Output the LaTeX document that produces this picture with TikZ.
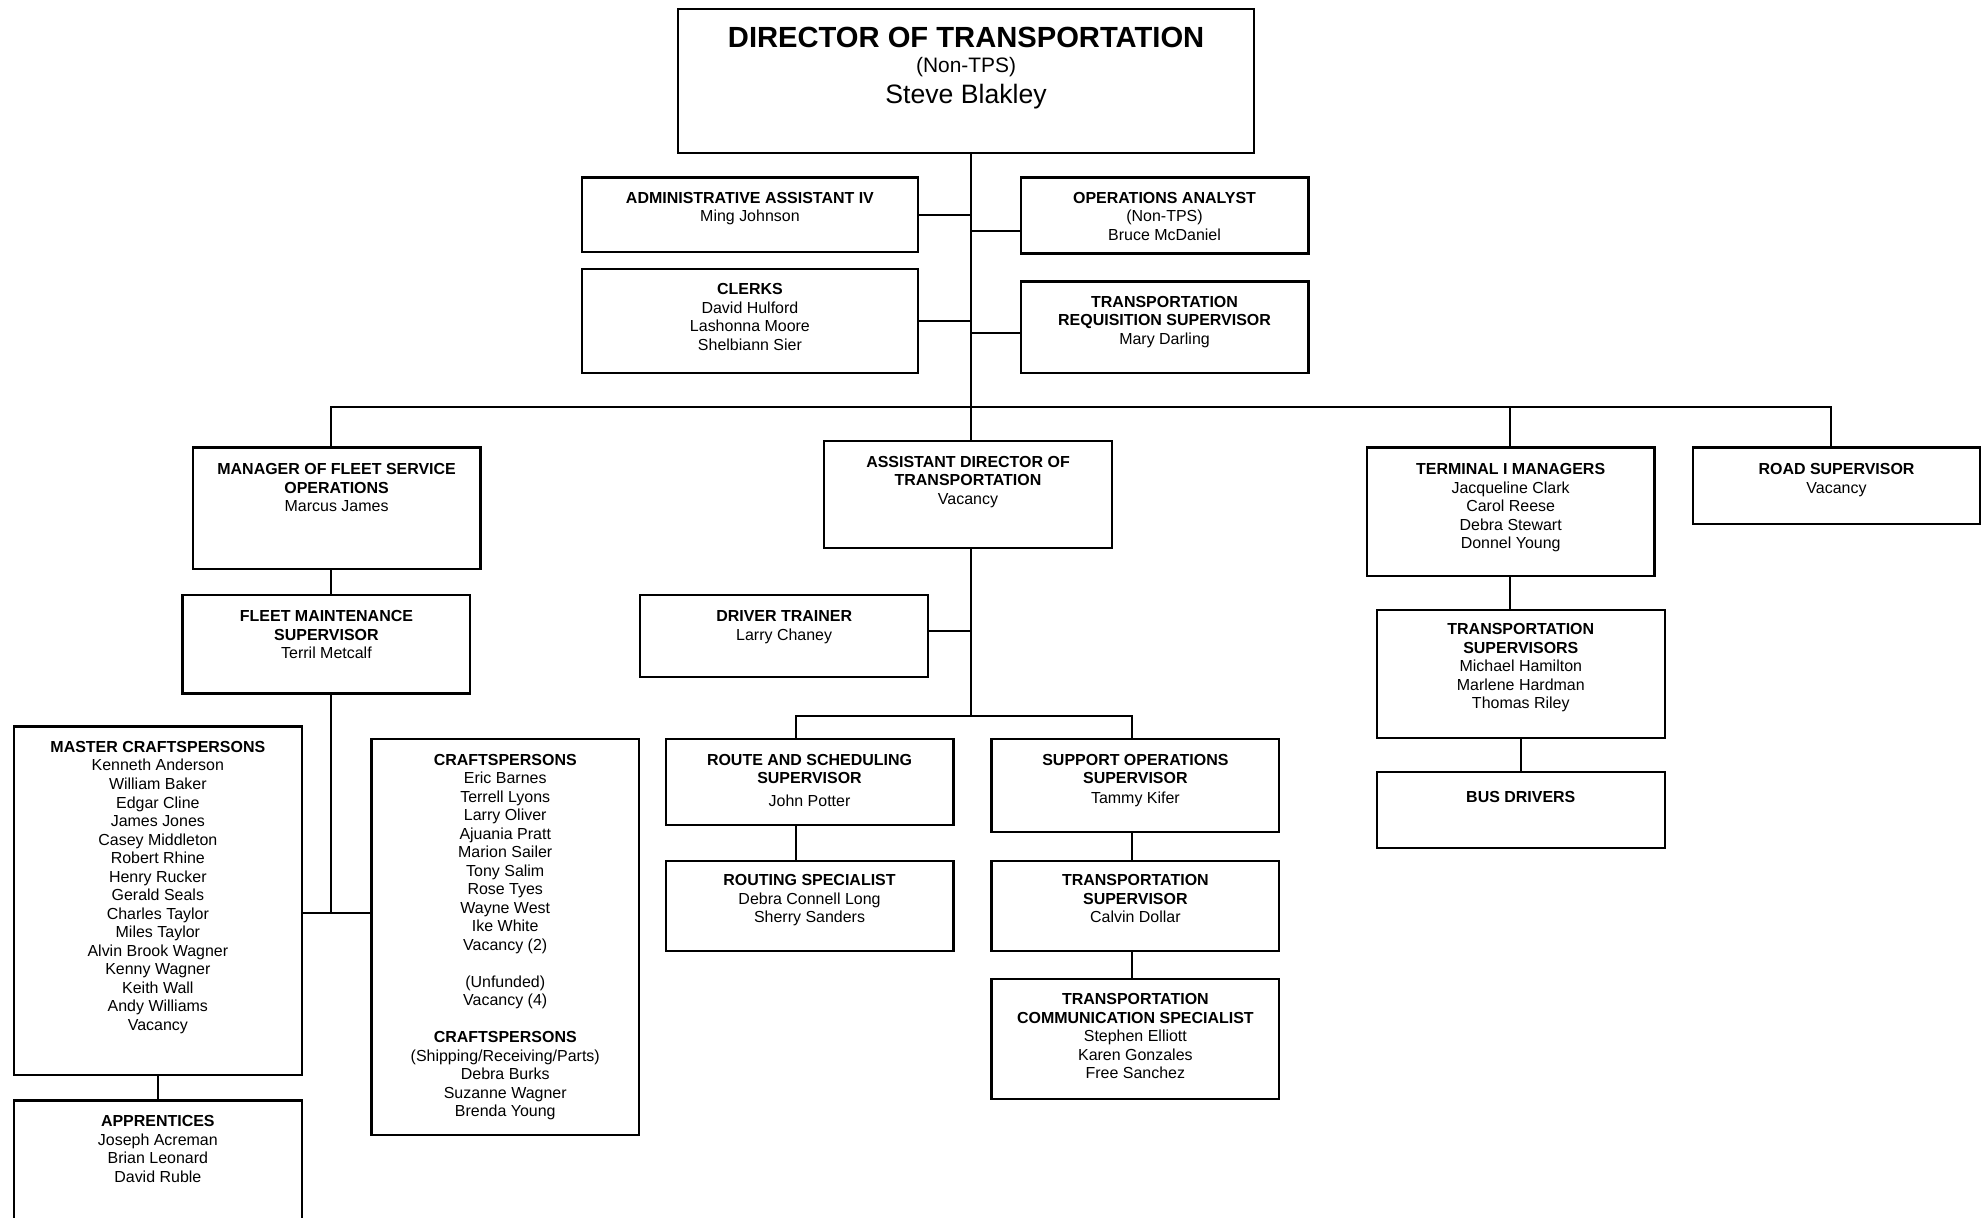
\documentclass[tikz,border=0pt]{standalone}
\usepackage{fontspec}
\setmainfont{Liberation Sans}
\begin{document}
\begin{tikzpicture}[x=1pt,y=-1pt,
  box/.style={draw=black,line width=1.7pt,rectangle,inner sep=0pt,outer sep=0pt,fill=white},
  txt/.style={anchor=north,align=center,inner sep=0pt,font=\fontsize{12.6}{14.6}\selectfont,execute at begin node={\rule{0pt}{11pt}}},
  conn/.style={line width=1.5pt,line cap=rect}]
\useasboundingbox (0,0) rectangle (1568,960);
\clip (0,0) rectangle (1568,960);
% boxes
\node[box,minimum width=454pt,minimum height=114pt] (dir) at (762,64) {};
\node[box,minimum width=265pt,minimum height=59pt] (admin) at (591.5,169.5) {};
\node[box,minimum width=227pt,minimum height=60pt] (ops) at (918.5,170) {};
\node[box,minimum width=265pt,minimum height=82pt] (clerks) at (591.5,253) {};
\node[box,minimum width=227pt,minimum height=72pt] (trs) at (918.5,258) {};
\node[box,minimum width=227pt,minimum height=96pt] (mgr) at (265.5,401) {};
\node[box,minimum width=227pt,minimum height=84pt] (ad) at (763.5,390) {};
\node[box,minimum width=227pt,minimum height=101pt] (term) at (1191.5,403.5) {};
\node[box,minimum width=227pt,minimum height=60pt] (road) at (1448.5,383) {};
\node[box,minimum width=227pt,minimum height=78pt] (fms) at (257.5,508) {};
\node[box,minimum width=227pt,minimum height=275pt] (master) at (124.5,710.5) {};
\node[box,minimum width=227pt,minimum height=122pt] (appr) at (124.5,929) {};
\node[box,minimum width=211pt,minimum height=312pt] (craft) at (398.5,739) {};
\node[box,minimum width=227pt,minimum height=65pt] (dt) at (618.5,501.5) {};
\node[box,minimum width=227pt,minimum height=68pt] (rs) at (638.5,617) {};
\node[box,minimum width=227pt,minimum height=71pt] (rspec) at (638.5,714.5) {};
\node[box,minimum width=227pt,minimum height=73pt] (so) at (895.5,619.5) {};
\node[box,minimum width=227pt,minimum height=71pt] (tsup) at (895.5,714.5) {};
\node[box,minimum width=227pt,minimum height=95pt] (tcs) at (895.5,819.5) {};
\node[box,minimum width=227pt,minimum height=101pt] (tsups) at (1199.5,531.5) {};
\node[box,minimum width=227pt,minimum height=60pt] (bus) at (1199.5,639) {};
% junction coordinates
\coordinate (bC) at (766,321);
\coordinate (bL) at (261,321);
\coordinate (bR) at (1444,321);
\coordinate (bT) at (1191,321);
\coordinate (rsX) at (628,565);
\coordinate (soX) at (893,565);
% connectors
\draw[conn] (dir.south -| bC) -- (ad.north -| bC);
\draw[conn] (admin.east) -- (admin.east -| bC);
\draw[conn] (ops.west |- 0,182) -- (bC |- 0,182);
\draw[conn] (clerks.east) -- (clerks.east -| bC);
\draw[conn] (trs.west |- 0,263) -- (bC |- 0,263);
\draw[conn] (bL |- mgr.north) -- (bL) -- (bR) -- (bR |- road.north);
\draw[conn] (bT) -- (bT |- term.north);
\draw[conn] (mgr.south -| bL) -- (fms.north -| bL);
\draw[conn] (fms.south -| bL) -- (bL |- 0,720);
\draw[conn] (master.east |- 0,720) -- (craft.west |- 0,720);
\draw[conn] (master.south) -- (appr.north);
\draw[conn] (ad.south -| bC) -- (bC |- 0,565);
\draw[conn] (dt.east |- 0,498) -- (bC |- 0,498);
\draw[conn] (rsX |- rs.north) -- (rsX) -- (soX) -- (soX |- so.north);
\draw[conn] (rs.south -| rsX) -- (rspec.north -| rsX);
\draw[conn] (so.south -| soX) -- (tsup.north -| soX);
\draw[conn] (tsup.south -| soX) -- (tcs.north -| soX);
\draw[conn] (term.south -| bT) -- (tsups.north -| bT);
\draw[conn] (tsups.south) -- (bus.north);
% director text
\node[anchor=base,inner sep=0pt,font=\fontsize{23}{27}\selectfont\bfseries] (dir-t1) at (762,37.5) {DIRECTOR OF TRANSPORTATION};
\node[anchor=base,inner sep=0pt,font=\fontsize{16.5}{19}\selectfont] (dir-t2) at (762,57.5) {(Non-TPS)};
\node[anchor=base,inner sep=0pt,font=\fontsize{21}{25}\selectfont] (dir-t3) at (762,82) {Steve Blakley};
% box texts
\node[txt] (admin-t) at ([yshift=-11.5pt]admin.north) {\textbf{ADMINISTRATIVE ASSISTANT IV}\\Ming Johnson};
\node[txt] (ops-t) at ([yshift=-11.5pt]ops.north) {\textbf{OPERATIONS ANALYST}\\(Non-TPS)\\Bruce McDaniel};
\node[txt] (clerks-t) at ([yshift=-11.5pt]clerks.north) {\textbf{CLERKS}\\David Hulford\\Lashonna Moore\\Shelbiann Sier};
\node[txt] (trs-t) at ([yshift=-11.5pt]trs.north) {\textbf{TRANSPORTATION}\\\textbf{REQUISITION SUPERVISOR}\\Mary Darling};
\node[txt] (mgr-t) at ([yshift=-12.5pt]mgr.north) {\textbf{MANAGER OF FLEET SERVICE}\\\textbf{OPERATIONS}\\Marcus James};
\node[txt] (ad-t) at ([yshift=-11.5pt]ad.north) {\textbf{ASSISTANT DIRECTOR OF}\\\textbf{TRANSPORTATION}\\Vacancy};
\node[txt] (term-t) at ([yshift=-12.5pt]term.north) {\textbf{TERMINAL I MANAGERS}\\Jacqueline Clark\\Carol Reese\\Debra Stewart\\Donnel Young};
\node[txt] (road-t) at ([yshift=-12.5pt]road.north) {\textbf{ROAD SUPERVISOR}\\Vacancy};
\node[txt] (fms-t) at ([yshift=-12.5pt]fms.north) {\textbf{FLEET MAINTENANCE}\\\textbf{SUPERVISOR}\\Terril Metcalf};
\node[txt] (master-t) at ([yshift=-11.5pt]master.north) {\textbf{MASTER CRAFTSPERSONS}\\Kenneth Anderson\\William Baker\\Edgar Cline\\James Jones\\Casey Middleton\\Robert Rhine\\Henry Rucker\\Gerald Seals\\Charles Taylor\\Miles Taylor\\Alvin Brook Wagner\\Kenny Wagner\\Keith Wall\\Andy Williams\\Vacancy};
\node[txt] (appr-t) at ([yshift=-11.5pt]appr.north) {\textbf{APPRENTICES}\\Joseph Acreman\\Brian Leonard\\David Ruble};
\node[txt] (craft-t) at ([yshift=-11.5pt]craft.north) {\textbf{CRAFTSPERSONS}\\Eric Barnes\\Terrell Lyons\\Larry Oliver\\Ajuania Pratt\\Marion Sailer\\Tony Salim\\Rose Tyes\\Wayne West\\Ike White\\Vacancy (2)\\[14.6pt](Unfunded)\\Vacancy (4)\\[14.6pt]\textbf{CRAFTSPERSONS}\\(Shipping/Receiving/Parts)\\Debra Burks\\Suzanne Wagner\\Brenda Young};
\node[txt] (dt-t) at ([yshift=-12.5pt]dt.north) {\textbf{DRIVER TRAINER}\\Larry Chaney};
\node[txt] (rs-t) at ([yshift=-11.5pt]rs.north) {\textbf{ROUTE AND SCHEDULING}\\\textbf{SUPERVISOR}\\[3.4pt]John Potter};
\node[txt] (rspec-t) at ([yshift=-10.5pt]rspec.north) {\textbf{ROUTING SPECIALIST}\\Debra Connell Long\\Sherry Sanders};
\node[txt] (so-t) at ([yshift=-11.5pt]so.north) {\textbf{SUPPORT OPERATIONS}\\\textbf{SUPERVISOR}\\[1.4pt]Tammy Kifer};
\node[txt] (tsup-t) at ([yshift=-10.5pt]tsup.north) {\textbf{TRANSPORTATION}\\\textbf{SUPERVISOR}\\Calvin Dollar};
\node[txt] (tcs-t) at ([yshift=-11.5pt]tcs.north) {\textbf{TRANSPORTATION}\\\textbf{COMMUNICATION SPECIALIST}\\Stephen Elliott\\Karen Gonzales\\Free Sanchez};
\node[txt] (tsups-t) at ([yshift=-10.5pt]tsups.north) {\textbf{TRANSPORTATION}\\\textbf{SUPERVISORS}\\Michael Hamilton\\Marlene Hardman\\Thomas Riley};
\node[txt] (bus-t) at ([yshift=-12.5pt]bus.north) {\textbf{BUS DRIVERS}};
\end{tikzpicture}
\end{document}
